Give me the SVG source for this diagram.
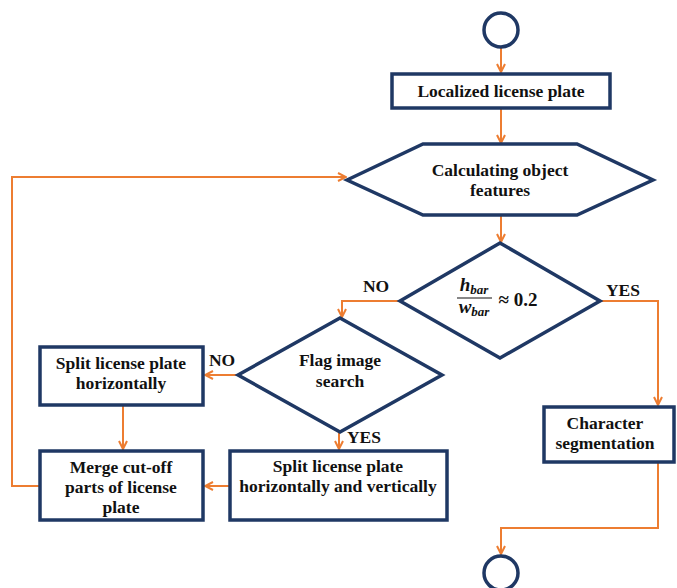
<svg xmlns="http://www.w3.org/2000/svg" width="677" height="588" viewBox="0 0 677 588">
<style>
.n{fill:#fff;stroke:#1f3864;stroke-width:3.5}
.c{fill:none;stroke:#ed7d31;stroke-width:2}
text{font-family:'Liberation Serif','DejaVu Serif',serif;font-weight:bold;font-size:17.5px;fill:#111;text-anchor:middle}
.m{font-style:italic;font-size:19px}
</style>
<defs>
<marker id="a" viewBox="0 0 10 10" refX="9" refY="5" markerWidth="10" markerHeight="10" markerUnits="userSpaceOnUse" orient="auto">
<polyline points="1,1 9,5 1,9" fill="none" stroke="#ed7d31" stroke-width="2"/>
</marker>
</defs>
<rect width="677" height="588" fill="#fff"/>
<g id="connectors">
<line class="c" x1="501" y1="48" x2="501" y2="72" marker-end="url(#a)"/>
<line class="c" x1="501" y1="109" x2="501" y2="143" marker-end="url(#a)"/>
<line class="c" x1="501" y1="216" x2="501" y2="242" marker-end="url(#a)"/>
<polyline class="c" points="400,301 342,301 342,317" marker-end="url(#a)"/>
<polyline class="c" points="600,301 658,301 658,405" marker-end="url(#a)"/>
<line class="c" x1="238" y1="375" x2="205" y2="375" marker-end="url(#a)"/>
<line class="c" x1="339" y1="432" x2="339" y2="449" marker-end="url(#a)"/>
<line class="c" x1="123" y1="406" x2="123" y2="449" marker-end="url(#a)"/>
<line class="c" x1="229" y1="486" x2="205" y2="486" marker-end="url(#a)"/>
<polyline class="c" points="40,486 12,486 12,177 346,177" marker-end="url(#a)"/>
<polyline class="c" points="658,463 658,528 501,528 501,554" marker-end="url(#a)"/>
</g>
<g id="start"><circle class="n" cx="501" cy="30" r="17"/></g>
<g id="localized">
<rect class="n" x="392" y="74" width="218" height="34"/>
<text x="501" y="97">Localized license plate</text>
</g>
<g id="calc">
<polygon class="n" points="347,180 423,144 577,144 653,180 577,215 423,215"/>
<text x="500" y="176">Calculating object</text>
<text x="500" y="196">features</text>
</g>
<g id="ratio">
<polygon class="n" points="500,243 600,301 500,358 400,301"/>
<text class="m" x="474" y="291">h<tspan font-size="13" dy="3">bar</tspan></text>
<line x1="457" y1="298" x2="492" y2="298" stroke="#111" stroke-width="1.2"/>
<text class="m" x="474" y="313">w<tspan font-size="13" dy="3">bar</tspan></text>
<text x="518" y="306" style="font-size:19px">≈ 0.2</text>
</g>
<text x="376" y="292">NO</text>
<text x="623" y="296">YES</text>
<g id="flag">
<polygon class="n" points="340,318 442,375 340,432 238,375"/>
<text x="340" y="366">Flag image</text>
<text x="340" y="387">search</text>
</g>
<text x="222" y="366">NO</text>
<text x="364" y="443">YES</text>
<g id="splith">
<rect class="n" x="40" y="347" width="163" height="58"/>
<text x="121" y="369">Split license plate</text>
<text x="121" y="389">horizontally</text>
</g>
<g id="merge">
<rect class="n" x="40" y="451" width="163" height="69"/>
<text x="121" y="473">Merge cut-off</text>
<text x="121" y="493">parts of license</text>
<text x="121" y="513">plate</text>
</g>
<g id="splithv">
<rect class="n" x="230" y="451" width="217" height="69"/>
<text x="338" y="472">Split license plate</text>
<text x="338" y="492">horizontally and vertically</text>
</g>
<g id="charseg">
<rect class="n" x="544" y="407" width="130" height="55"/>
<text x="605" y="429">Character</text>
<text x="605" y="449">segmentation</text>
</g>
<g id="end"><circle class="n" cx="501" cy="573" r="17"/></g>
</svg>
